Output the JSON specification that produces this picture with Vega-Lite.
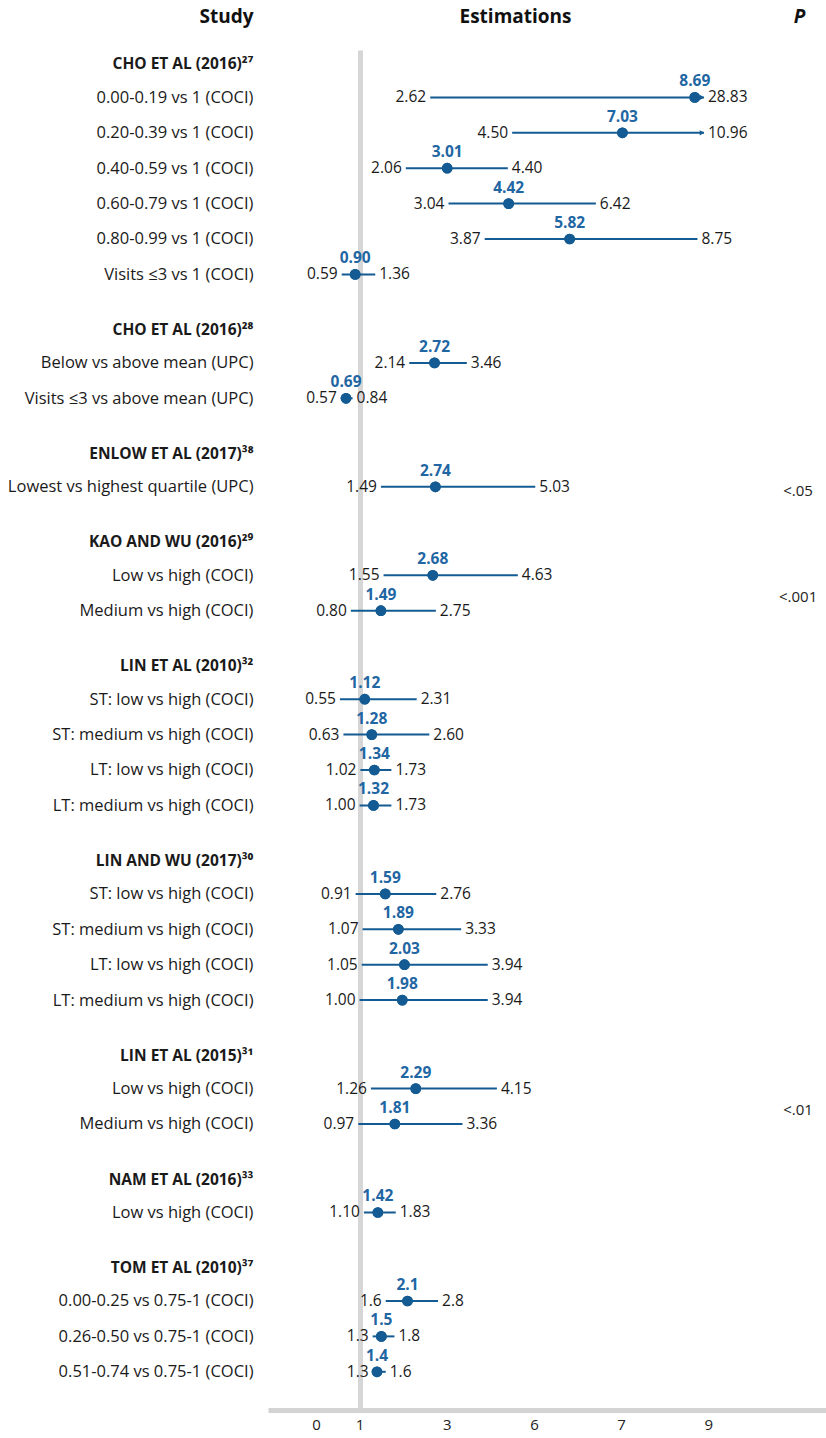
{
  "$schema": "https://vega.github.io/schema/vega-lite/v6.json",
  "autosize": {"type": "none"},
  "padding": {"left": 268, "top": 50, "right": 0, "bottom": 28},
  "width": 558,
  "height": 1360,
  "background": "white",
  "config": {"view": {"stroke": null}, "font": "Open Sans"},
  "datasets": {
    "est": [
      {"study": "Cho 2016a", "key": "i|1|0.00-0.19 vs 1 (COCI)", "est": 8.69, "lower": 2.62, "upper": 28.83},
      {"study": "Cho 2016a", "key": "i|1|0.20-0.39 vs 1 (COCI)", "est": 7.03, "lower": 4.50, "upper": 10.96},
      {"study": "Cho 2016a", "key": "i|1|0.40-0.59 vs 1 (COCI)", "est": 3.01, "lower": 2.06, "upper": 4.40},
      {"study": "Cho 2016a", "key": "i|1|0.60-0.79 vs 1 (COCI)", "est": 4.42, "lower": 3.04, "upper": 6.42},
      {"study": "Cho 2016a", "key": "i|1|0.80-0.99 vs 1 (COCI)", "est": 5.82, "lower": 3.87, "upper": 8.75},
      {"study": "Cho 2016a", "key": "i|1|Visits ≤3 vs 1 (COCI)", "est": 0.90, "lower": 0.59, "upper": 1.36},
      {"study": "Cho 2016b", "key": "i|2|Below vs above mean (UPC)", "est": 2.72, "lower": 2.14, "upper": 3.46},
      {"study": "Cho 2016b", "key": "i|2|Visits ≤3 vs above mean (UPC)", "est": 0.69, "lower": 0.57, "upper": 0.84},
      {"study": "Enlow 2017", "key": "i|3|Lowest vs highest quartile (UPC)", "est": 2.74, "lower": 1.49, "upper": 5.03},
      {"study": "Kao 2016", "key": "i|4|Low vs high (COCI)", "est": 2.68, "lower": 1.55, "upper": 4.63},
      {"study": "Kao 2016", "key": "i|4|Medium vs high (COCI)", "est": 1.49, "lower": 0.80, "upper": 2.75},
      {"study": "Lin 2010", "key": "i|5|ST: low vs high (COCI)", "est": 1.12, "lower": 0.55, "upper": 2.31},
      {"study": "Lin 2010", "key": "i|5|ST: medium vs high (COCI)", "est": 1.28, "lower": 0.63, "upper": 2.60},
      {"study": "Lin 2010", "key": "i|5|LT: low vs high (COCI)", "est": 1.34, "lower": 1.02, "upper": 1.73},
      {"study": "Lin 2010", "key": "i|5|LT: medium vs high (COCI)", "est": 1.32, "lower": 1.00, "upper": 1.73},
      {"study": "Lin 2017", "key": "i|6|ST: low vs high (COCI)", "est": 1.59, "lower": 0.91, "upper": 2.76},
      {"study": "Lin 2017", "key": "i|6|ST: medium vs high (COCI)", "est": 1.89, "lower": 1.07, "upper": 3.33},
      {"study": "Lin 2017", "key": "i|6|LT: low vs high (COCI)", "est": 2.03, "lower": 1.05, "upper": 3.94},
      {"study": "Lin 2017", "key": "i|6|LT: medium vs high (COCI)", "est": 1.98, "lower": 1.00, "upper": 3.94},
      {"study": "Lin 2015", "key": "i|7|Low vs high (COCI)", "est": 2.29, "lower": 1.26, "upper": 4.15},
      {"study": "Lin 2015", "key": "i|7|Medium vs high (COCI)", "est": 1.81, "lower": 0.97, "upper": 3.36},
      {"study": "Nam 2016", "key": "i|8|Low vs high (COCI)", "est": 1.42, "lower": 1.10, "upper": 1.83},
      {"study": "TOM", "key": "i|9|0.00-0.25 vs 0.75-1 (COCI)", "est": 2.1, "lower": 1.6, "upper": 2.8},
      {"study": "TOM", "key": "i|9|0.26-0.50 vs 0.75-1 (COCI)", "est": 1.5, "lower": 1.3, "upper": 1.8},
      {"study": "TOM", "key": "i|9|0.51-0.74 vs 0.75-1 (COCI)", "est": 1.4, "lower": 1.3, "upper": 1.6}
    ],
    "pv": [
      {"key": "i|3|Lowest vs highest quartile (UPC)", "p": "<.05"},
      {"key": "s17", "p": "<.001"},
      {"key": "s33", "p": "<.01"}
    ]
  },
  "layer": [
    {
      "data": {"name": "est"},
      "mark": {"type": "circle", "size": 115, "opacity": 1, "color": "#135b92"},
      "encoding": {
        "x": {
          "field": "est",
          "type": "quantitative",
          "scale": {"domain": [-1.1, 11.7], "nice": false, "zero": false},
          "axis": {
            "orient": "bottom",
            "values": [0, 1, 3, 5, 7, 9],
            "labelExpr": "datum.value == 5 ? '6' : datum.label",
            "title": null,
            "ticks": false,
            "domain": true,
            "domainColor": "#d3d3d3",
            "domainWidth": 5,
            "grid": true,
            "gridColor": "#d6d6d6",
            "gridWidth": 5,
            "gridOpacity": {"condition": {"test": "datum.value == 1", "value": 1}, "value": 0},
            "labelFont": "Open Sans",
            "labelFontSize": 15,
            "labelColor": "#222222",
            "labelPadding": 7
          }
        },
        "y": {
          "field": "key",
          "type": "nominal",
          "scale": {
            "type": "point",
            "padding": 0.918,
            "align": 0.369,
            "domain": [
              "h|CHO ET AL (2016)²⁷", "s1",
              "i|1|0.00-0.19 vs 1 (COCI)", "s2",
              "i|1|0.20-0.39 vs 1 (COCI)", "s3",
              "i|1|0.40-0.59 vs 1 (COCI)", "s4",
              "i|1|0.60-0.79 vs 1 (COCI)", "s5",
              "i|1|0.80-0.99 vs 1 (COCI)", "s6",
              "i|1|Visits ≤3 vs 1 (COCI)", "s7", "s8",
              "h|CHO ET AL (2016)²⁸", "s9",
              "i|2|Below vs above mean (UPC)", "s10",
              "i|2|Visits ≤3 vs above mean (UPC)", "s11", "s12",
              "h|ENLOW ET AL (2017)³⁸", "s13",
              "i|3|Lowest vs highest quartile (UPC)", "s14", "s15",
              "h|KAO AND WU (2016)²⁹", "s16",
              "i|4|Low vs high (COCI)", "s17",
              "i|4|Medium vs high (COCI)", "s18", "s19",
              "h|LIN ET AL (2010)³²", "s20",
              "i|5|ST: low vs high (COCI)", "s21",
              "i|5|ST: medium vs high (COCI)", "s22",
              "i|5|LT: low vs high (COCI)", "s23",
              "i|5|LT: medium vs high (COCI)", "s24", "s25",
              "h|LIN AND WU (2017)³⁰", "s26",
              "i|6|ST: low vs high (COCI)", "s27",
              "i|6|ST: medium vs high (COCI)", "s28",
              "i|6|LT: low vs high (COCI)", "s29",
              "i|6|LT: medium vs high (COCI)", "s30", "s31",
              "h|LIN ET AL (2015)³¹", "s32",
              "i|7|Low vs high (COCI)", "s33",
              "i|7|Medium vs high (COCI)", "s34", "s35",
              "h|NAM ET AL (2016)³³", "s36",
              "i|8|Low vs high (COCI)", "s37", "s38",
              "h|TOM ET AL (2010)³⁷", "s39",
              "i|9|0.00-0.25 vs 0.75-1 (COCI)", "s40",
              "i|9|0.26-0.50 vs 0.75-1 (COCI)", "s41",
              "i|9|0.51-0.74 vs 0.75-1 (COCI)", "s42"
            ]
          },
          "axis": {
            "orient": "left",
            "title": "Study",
            "titleAngle": 0,
            "titleAlign": "right",
            "titleBaseline": "alphabetic",
            "titleX": -15,
            "titleY": -28,
            "titleFont": "Open Sans",
            "titleFontSize": 19,
            "titleFontWeight": "bold",
            "titleColor": "#111111",
            "labelExpr": "indexof(datum.value, '|') >= 0 ? peek(split(datum.value, '|')) : ''",
            "labelFont": "Open Sans",
            "labelFontWeight": {"condition": {"test": "indexof(datum.value, 'h|') == 0", "value": "bold"}, "value": "normal"},
            "labelFontSize": {"condition": {"test": "indexof(datum.value, 'h|') == 0", "value": 15.5}, "value": 16.5},
            "labelOffset": {"condition": {"test": "indexof(datum.value, 'h|') == 0", "value": 2}, "value": 0},
            "labelColor": "#1a1a1a",
            "labelPadding": 15,
            "labelLimit": 400,
            "labelOverlap": false,
            "labelBaseline": "middle",
            "ticks": false,
            "domain": false,
            "grid": false
          }
        }
      }
    },
    {
      "data": {"name": "est"},
      "mark": {"type": "rule", "strokeWidth": 2, "color": "#135b92"},
      "encoding": {
        "x": {
          "field": "lower",
          "type": "quantitative",
          "scale": {"domain": [-1.1, 8.9], "range": [0, 436], "clamp": true, "nice": false, "zero": false},
          "axis": {
            "orient": "top",
            "title": "Estimations",
            "titleX": 247,
            "titleY": -28,
            "titleAlign": "center",
            "titleBaseline": "alphabetic",
            "titleAngle": 0,
            "titleFont": "Open Sans",
            "titleFontSize": 19,
            "titleFontWeight": "bold",
            "titleColor": "#111111",
            "labels": false,
            "ticks": false,
            "domain": false,
            "grid": false
          }
        },
        "x2": {"field": "upper"},
        "y": {
          "field": "key",
          "type": "nominal",
          "scale": {
            "type": "point",
            "padding": 0.918,
            "align": 0.369,
            "domain": [
              "h|CHO ET AL (2016)²⁷", "s1",
              "i|1|0.00-0.19 vs 1 (COCI)", "s2",
              "i|1|0.20-0.39 vs 1 (COCI)", "s3",
              "i|1|0.40-0.59 vs 1 (COCI)", "s4",
              "i|1|0.60-0.79 vs 1 (COCI)", "s5",
              "i|1|0.80-0.99 vs 1 (COCI)", "s6",
              "i|1|Visits ≤3 vs 1 (COCI)", "s7", "s8",
              "h|CHO ET AL (2016)²⁸", "s9",
              "i|2|Below vs above mean (UPC)", "s10",
              "i|2|Visits ≤3 vs above mean (UPC)", "s11", "s12",
              "h|ENLOW ET AL (2017)³⁸", "s13",
              "i|3|Lowest vs highest quartile (UPC)", "s14", "s15",
              "h|KAO AND WU (2016)²⁹", "s16",
              "i|4|Low vs high (COCI)", "s17",
              "i|4|Medium vs high (COCI)", "s18", "s19",
              "h|LIN ET AL (2010)³²", "s20",
              "i|5|ST: low vs high (COCI)", "s21",
              "i|5|ST: medium vs high (COCI)", "s22",
              "i|5|LT: low vs high (COCI)", "s23",
              "i|5|LT: medium vs high (COCI)", "s24", "s25",
              "h|LIN AND WU (2017)³⁰", "s26",
              "i|6|ST: low vs high (COCI)", "s27",
              "i|6|ST: medium vs high (COCI)", "s28",
              "i|6|LT: low vs high (COCI)", "s29",
              "i|6|LT: medium vs high (COCI)", "s30", "s31",
              "h|LIN ET AL (2015)³¹", "s32",
              "i|7|Low vs high (COCI)", "s33",
              "i|7|Medium vs high (COCI)", "s34", "s35",
              "h|NAM ET AL (2016)³³", "s36",
              "i|8|Low vs high (COCI)", "s37", "s38",
              "h|TOM ET AL (2010)³⁷", "s39",
              "i|9|0.00-0.25 vs 0.75-1 (COCI)", "s40",
              "i|9|0.26-0.50 vs 0.75-1 (COCI)", "s41",
              "i|9|0.51-0.74 vs 0.75-1 (COCI)", "s42"
            ]
          },
          "axis": {
            "orient": "right",
            "title": "P",
            "titleAngle": 0,
            "titleAlign": "center",
            "titleBaseline": "alphabetic",
            "titleX": -27,
            "titleY": -28,
            "titleFont": "Open Sans",
            "titleFontSize": 19,
            "titleFontWeight": "bold",
            "titleFontStyle": "italic",
            "titleColor": "#111111",
            "labels": false,
            "ticks": false,
            "domain": false,
            "grid": false
          }
        }
      }
    },
    {
      "data": {"name": "est"},
      "mark": {"type": "circle", "size": 115, "opacity": 1, "color": "#135b92"},
      "encoding": {
        "x": {"field": "est", "type": "quantitative", "scale": {"domain": [-1.1, 11.7], "nice": false, "zero": false}, "axis": null},
        "y": {"field": "key", "type": "nominal", "axis": null}
      }
    },
    {
      "data": {"name": "est"},
      "mark": {"type": "text", "align": "center", "baseline": "alphabetic", "dy": -11, "font": "Open Sans", "fontSize": 15.5, "fontWeight": "bold", "color": "#1f66a3"},
      "encoding": {
        "x": {"field": "est", "type": "quantitative", "scale": {"domain": [-1.1, 11.7], "nice": false, "zero": false}, "axis": null},
        "y": {"field": "key", "type": "nominal", "axis": null},
        "text": {"field": "est", "type": "quantitative", "format": ".2f", "condition": {"test": "datum.study === 'TOM'", "value": {"expr": "format(datum.est, '.1f')"}}}
      }
    },
    {
      "data": {"name": "est"},
      "mark": {"type": "text", "align": "right", "baseline": "middle", "dx": -4, "font": "Open Sans", "fontSize": 15.5, "color": "#1a1a1a"},
      "encoding": {
        "x": {"field": "lower", "type": "quantitative", "scale": {"domain": [-1.1, 11.7], "nice": false, "zero": false}, "axis": null},
        "y": {"field": "key", "type": "nominal", "axis": null},
        "text": {"field": "lower", "type": "quantitative", "format": ".2f", "condition": {"test": "datum.study === 'TOM'", "value": {"expr": "format(datum.lower, '.1f')"}}}
      }
    },
    {
      "data": {"name": "est"},
      "mark": {"type": "text", "align": "left", "baseline": "middle", "dx": 4, "font": "Open Sans", "fontSize": 15.5, "color": "#1a1a1a"},
      "encoding": {
        "x": {"field": "upper", "type": "quantitative", "scale": {"domain": [-1.1, 8.9], "range": [0, 436], "clamp": true, "nice": false, "zero": false}, "axis": null},
        "y": {"field": "key", "type": "nominal", "axis": null},
        "text": {"field": "upper", "type": "quantitative", "format": ".2f", "condition": {"test": "datum.study === 'TOM'", "value": {"expr": "format(datum.upper, '.1f')"}}}
      }
    },
    {
      "data": {"name": "est"},
      "transform": [{"filter": "datum.upper > 8.9"}],
      "mark": {"type": "point", "shape": "triangle-right", "filled": true, "size": 28, "opacity": 1, "color": "#135b92", "xOffset": -2},
      "encoding": {
        "x": {"field": "upper", "type": "quantitative", "scale": {"domain": [-1.1, 8.9], "range": [0, 436], "clamp": true, "nice": false, "zero": false}, "axis": null},
        "y": {"field": "key", "type": "nominal", "axis": null}
      }
    },
    {
      "data": {"name": "pv"},
      "mark": {"type": "text", "align": "center", "baseline": "middle", "dy": 4, "font": "Open Sans", "fontSize": 15, "color": "#222222"},
      "encoding": {
        "x": {"datum": 11.06, "type": "quantitative", "scale": {"domain": [-1.1, 11.7], "nice": false, "zero": false}, "axis": null},
        "y": {"field": "key", "type": "nominal", "axis": null},
        "text": {"field": "p", "type": "nominal"}
      }
    }
  ],
  "resolve": {"scale": {"x": "independent"}, "axis": {"x": "independent", "y": "independent"}}
}
